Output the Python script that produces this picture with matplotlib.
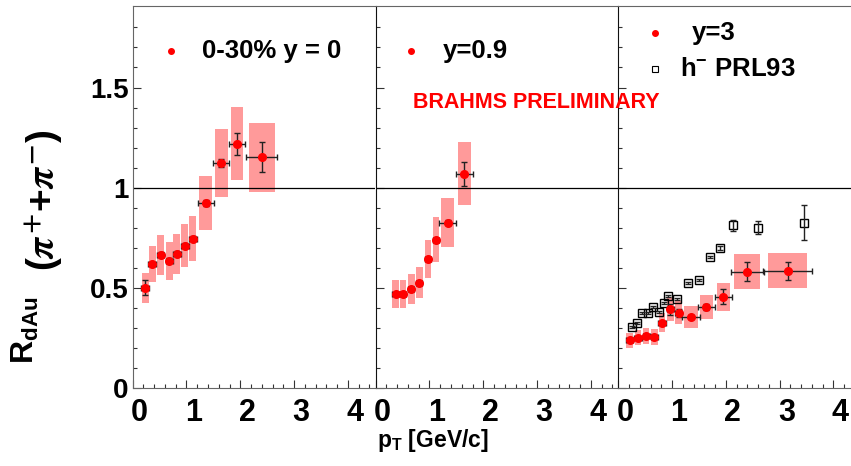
import numpy as np
import matplotlib
matplotlib.use('Agg')
import matplotlib.pyplot as plt
from matplotlib.transforms import ScaledTranslation

plt.rcParams['font.family'] = ['Liberation Sans', 'DejaVu Sans']
plt.rcParams['font.weight'] = 'bold'
plt.rcParams['mathtext.fontset'] = 'custom'
plt.rcParams['mathtext.rm'] = 'Liberation Sans:bold'
plt.rcParams['mathtext.bf'] = 'Liberation Sans:bold'
plt.rcParams['mathtext.it'] = 'Liberation Sans:bold'

# ---- y = 0 (0-30%) ----
pt_y0 = [0.23, 0.36, 0.52, 0.68, 0.82, 0.97, 1.12, 1.36, 1.65, 1.94, 2.40]
r_y0 = [0.502, 0.620, 0.666, 0.636, 0.671, 0.711, 0.746, 0.923, 1.124, 1.220, 1.152]
stat_y0 = [0.036, 0.012, 0.012, 0.012, 0.012, 0.012, 0.012, 0.015, 0.018, 0.055, 0.075]
xerr_y0 = [0.07, 0.07, 0.07, 0.07, 0.07, 0.07, 0.07, 0.15, 0.15, 0.15, 0.29]
sys_y0 = [0.075, 0.092, 0.100, 0.096, 0.100, 0.107, 0.112, 0.136, 0.168, 0.181, 0.173]
box_y0 = [0.065, 0.065, 0.065, 0.065, 0.065, 0.065, 0.065, 0.12, 0.12, 0.12, 0.24]

# ---- y = 0.9 ----
pt_y09 = [0.37, 0.51, 0.66, 0.81, 0.97, 1.12, 1.34, 1.65]
r_y09 = [0.472, 0.472, 0.495, 0.527, 0.645, 0.741, 0.826, 1.069]
stat_y09 = [0.01, 0.01, 0.01, 0.01, 0.01, 0.01, 0.012, 0.06]
xerr_y09 = [0.06, 0.06, 0.06, 0.06, 0.06, 0.06, 0.16, 0.15]
sys_y09 = [0.070, 0.070, 0.073, 0.079, 0.096, 0.111, 0.122, 0.157]
box_y09 = [0.062, 0.062, 0.062, 0.062, 0.062, 0.062, 0.125, 0.12]

# ---- y = 3 ----
pt_y3 = [0.21, 0.37, 0.52, 0.67, 0.81, 0.97, 1.12, 1.35, 1.64, 1.95, 2.40, 3.15]
r_y3 = [0.239, 0.252, 0.259, 0.256, 0.327, 0.394, 0.377, 0.356, 0.405, 0.457, 0.582, 0.587]
stat_y3 = [0.01, 0.01, 0.01, 0.01, 0.01, 0.026, 0.02, 0.01, 0.015, 0.037, 0.047, 0.045]
xerr_y3 = [0.07, 0.07, 0.07, 0.07, 0.07, 0.07, 0.07, 0.16, 0.16, 0.16, 0.31, 0.45]
sys_y3 = [0.037, 0.038, 0.040, 0.040, 0.048, 0.059, 0.058, 0.054, 0.060, 0.070, 0.087, 0.087]
box_y3 = [0.059, 0.059, 0.059, 0.059, 0.059, 0.059, 0.059, 0.124, 0.118, 0.118, 0.24, 0.36]

# ---- h- PRL93 ----
pt_h = [0.25, 0.34, 0.44, 0.55, 0.64, 0.75, 0.85, 0.93, 1.09, 1.29, 1.50, 1.71, 1.89, 2.14, 2.60, 3.46]
r_h = [0.307, 0.327, 0.374, 0.374, 0.407, 0.382, 0.427, 0.460, 0.445, 0.527, 0.542, 0.653, 0.701, 0.813, 0.801, 0.826]
err_h = [0.005, 0.005, 0.005, 0.005, 0.005, 0.005, 0.005, 0.005, 0.005, 0.005, 0.005, 0.005, 0.01, 0.027, 0.034, 0.088]

BOX = '#ff9a9a'
RED = '#ff0000'

fig = plt.figure(figsize=(8.51, 4.66), dpi=100)
W, H = 851.0, 466.0
lefts = [132.7, 375.7, 618.3]
axes = [fig.add_axes([l / W, 77.7 / H, 242 / W, 382.6 / H]) for l in lefts]

panels = [
    (pt_y0, r_y0, stat_y0, xerr_y0, sys_y0, box_y0),
    (pt_y09, r_y09, stat_y09, xerr_y09, sys_y09, box_y09),
    (pt_y3, r_y3, stat_y3, xerr_y3, sys_y3, box_y3),
]

shift = ScaledTranslation(0.07, 0, fig.dpi_scale_trans)

for i, (ax, (pt, r, st, xe, sy, bw)) in enumerate(zip(axes, panels)):
    pt, r, sy, bw = map(np.asarray, (pt, r, sy, bw))
    ax.bar(pt, 2 * sy, width=2 * bw, bottom=r - sy, color=BOX, zorder=1)
    ax.axhline(1.0, color='black', lw=0.9, zorder=2)
    ax.errorbar(pt, r, xerr=xe, yerr=st, fmt='o', ms=5.5, mfc=RED, mec=RED,
                ecolor='#222222', elinewidth=1.0, capsize=2, capthick=1.0, zorder=4)
    ax.set_xlim(0, 4.5)
    ax.set_ylim(0, 1.908)
    ax.set_xticks([0, 1, 2, 3, 4])
    ax.set_xticks(np.arange(0, 4.5, 0.2), minor=True)
    ax.set_yticks([0, 0.5, 1, 1.5])
    ax.set_yticks(np.arange(0, 1.9, 0.1), minor=True)
    ax.set_yticklabels(['0', '0.5', '1', '1.5'])
    ax.tick_params(which='both', direction='in', top=False, right=False, color='#333333')
    ax.tick_params(which='major', length=6, width=0.8)
    ax.tick_params(which='minor', length=3, width=0.8)
    ax.tick_params(axis='x', labelsize=22, pad=7)
    ax.tick_params(axis='y', labelsize=20, pad=3, labelleft=(i == 0))
    for lab in ax.get_xticklabels():
        lab.set_transform(lab.get_transform() + shift)
        lab.set_fontweight('bold')
    for lab in ax.get_yticklabels():
        lab.set_fontweight('bold')
    for s in ax.spines.values():
        s.set_color('#666666')
        s.set_linewidth(0.8)
    if i < 2:
        ax.spines['right'].set_visible(False)
    if i > 0:
        ax.spines['left'].set_color('#111111')

ax3 = axes[2]
ax3.plot(pt_h, r_h, 's', ms=6, mfc='none', mec='black', mew=1.0, zorder=3)
ax3.errorbar(pt_h, r_h, yerr=err_h, fmt='none', ecolor='#222222',
             elinewidth=1.0, capsize=2, capthick=1.0, zorder=3)

# legends drawn as ROOT-style text
axes[0].plot([0.71], [1.682], 'o', ms=4, color=RED)
axes[0].text(1.28, 1.682, '0-30% y = 0', fontsize=18.5, fontweight='bold', va='center')
axes[1].plot([0.66], [1.682], 'o', ms=4, color=RED)
axes[1].text(1.25, 1.682, 'y=0.9', fontsize=18.5, fontweight='bold', va='center')
ax3.plot([0.68], [1.772], 'o', ms=4, color=RED)
ax3.text(1.37, 1.772, 'y=3', fontsize=18.5, fontweight='bold', va='center')
ax3.plot([0.68], [1.593], 's', ms=4.5, mfc='none', mec='black', mew=0.8)
ax3.text(1.15, 1.593, r'h$^{-}$ PRL93', fontsize=18.5, fontweight='bold', va='center')

fig.text(413 / W, 1 - 103 / H, 'BRAHMS PRELIMINARY', color=RED, fontsize=15.5,
         fontweight='bold', va='center', ha='left')

fig.text(433 / W, 1 - 440 / H, r'p$_{\mathrm{T}}$ [GeV/c]', fontsize=16.5,
         fontweight='bold', ha='center', va='center')

fig.text(25 / W, 1 - 330 / H, r'R$_{\mathrm{dAu}}$', fontsize=23, fontweight='bold',
         rotation=90, ha='center', va='center')
fig.text(44 / W, 1 - 200 / H, r'($\pi^{+}$+$\pi^{-}$)', fontsize=28, fontweight='bold',
         rotation=90, ha='center', va='center', math_fontfamily='stix')

fig.savefig('out.png', dpi=100)
